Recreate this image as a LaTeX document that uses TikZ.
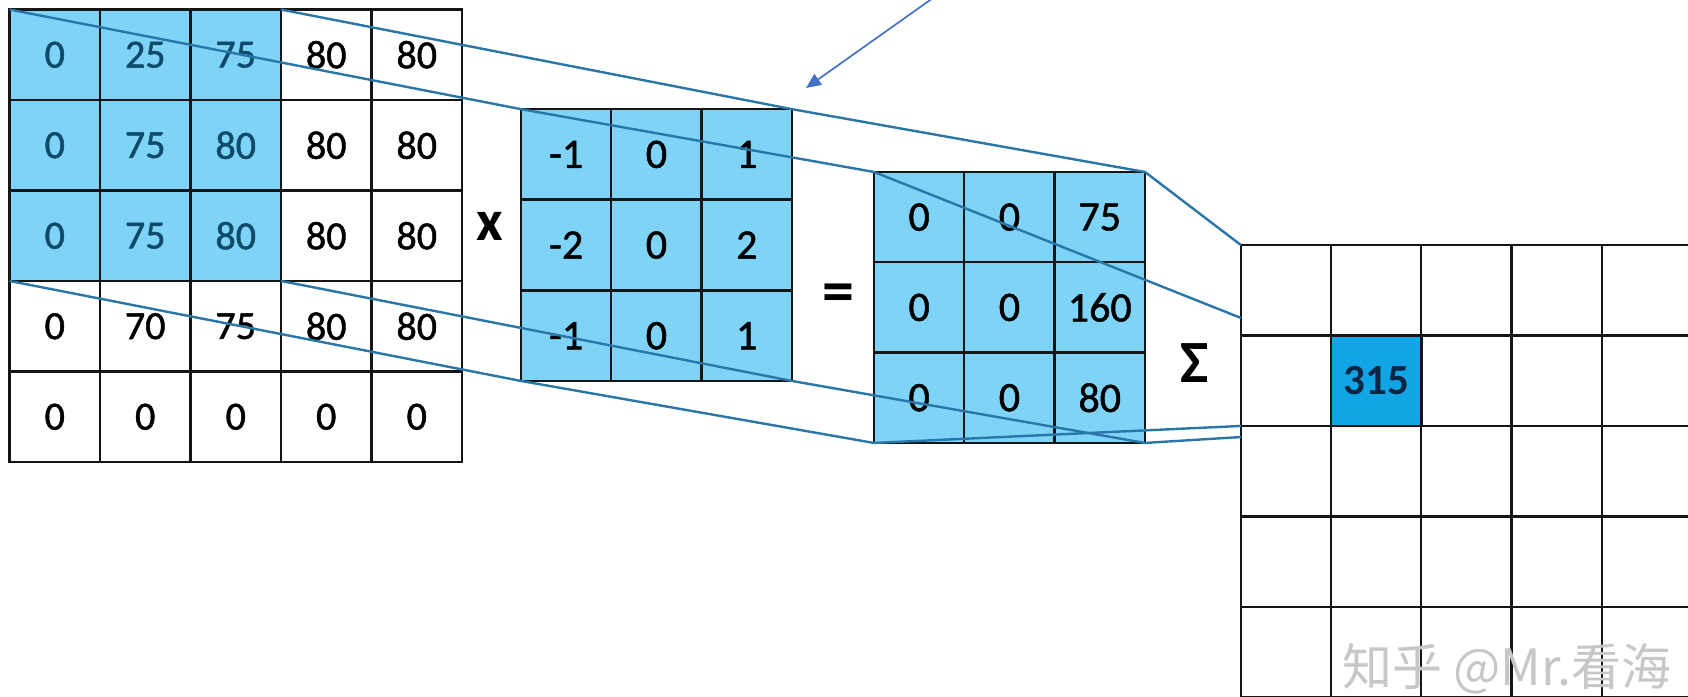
\documentclass[tikz,border=0pt]{standalone}
\usepackage{fontspec}
\setmainfont{Carlito}
\newfontfamily\numfont[FakeBold=1.2]{Carlito}
\newfontfamily\cjk{Noto Sans CJK SC}
\usetikzlibrary{arrows.meta}
\definecolor{lb}{HTML}{7FD3F7}
\definecolor{hl}{HTML}{12A5E6}
\definecolor{gridc}{HTML}{151515}
\definecolor{conn}{HTML}{2A76A8}
\definecolor{arrc}{HTML}{4472C4}
\definecolor{wintext}{HTML}{0E4A6A}
\definecolor{navy}{HTML}{0B2545}
\begin{document}
\begin{tikzpicture}[x=1pt,y=-1pt,
  cellbox/.style={draw=gridc, line width=2.2pt, minimum width=90.4pt, minimum height=90.4pt,
    inner sep=0pt, outer sep=0pt, anchor=center},
  numin/.style={font=\numfont\fontsize{40}{40}\selectfont},
  numk/.style={font=\numfont\fontsize{42}{42}\selectfont},
  connline/.style={draw=conn, line width=2.4pt, line join=round},
  opsym/.style={font=\bfseries\fontsize{58}{58}\selectfont, inner sep=0pt}]
\useasboundingbox (0,0) rectangle (1688,696);
\clip (0,0) rectangle (1688,696);
\fill[white] (0,0) rectangle (1688,696);

% input 5x5
\foreach \row [count=\ri] in {{0,25,75,80,80},{0,75,80,80,80},{0,75,80,80,80},{0,70,75,80,80},{0,0,0,0,0}}{
  \foreach \v [count=\ci] in \row {
    \ifnum\ri<4 \ifnum\ci<4 \def\fc{lb}\def\tc{wintext}\else\def\fc{white}\def\tc{black}\fi\else\def\fc{white}\def\tc{black}\fi
    \node[cellbox, numin, fill=\fc, text=\tc] (in-\ri-\ci) at ({9.5+90.5*(\ci-0.5)},{9.5+90.5*(\ri-0.5)}) {\v};
  }
}

% kernel 3x3
\foreach \row [count=\ri] in {{-1,0,1},{-2,0,2},{-1,0,1}}{
  \foreach \v [count=\ci] in \row {
    \node[cellbox, numk, fill=lb, text=black] (k-\ri-\ci) at ({521+90.3*(\ci-0.5)},{109+90.7*(\ri-0.5)}) {\v};
  }
}

% result 3x3
\foreach \row [count=\ri] in {{0,0,75},{0,0,160},{0,0,80}}{
  \foreach \v [count=\ci] in \row {
    \node[cellbox, numk, fill=lb, text=black] (res-\ri-\ci) at ({874+90.3*(\ci-0.5)},{172+90.3*(\ri-0.5)}) {\v};
  }
}

% output grid
\foreach \ri in {1,...,5}{
  \foreach \ci in {1,...,5}{
    \node[cellbox, fill=white] (out-\ri-\ci) at ({1241+90.2*(\ci-0.5)},{245+90.5*(\ri-0.5)}) {};
  }
}
\node[cellbox, fill=hl, text=navy, font=\bfseries\fontsize{43}{43}\selectfont] (outv) at (out-2-2) {315};

% operators
\node[opsym] (times) at (490,226) {x};
\node[opsym, font=\bfseries\fontsize{64}{64}\selectfont] (eq) at (838,298) {=};
\node[opsym, font=\bfseries\fontsize{60}{60}\selectfont] (sig) at (1195,363) {Σ};

% connector end points at left edge of output grid
\coordinate (eA) at (1241,318);
\coordinate (eD) at (1241,437);

\draw[connline] (in-1-1.north west) -- (k-1-1.north west) -- (res-1-1.north west) -- (eA);
\draw[connline] (in-1-3.north east) -- (k-1-3.north east) -- (res-1-3.north east) -- (out-1-1.north west);
\draw[connline] (in-3-1.south west) -- (k-3-1.south west) -- (res-3-1.south west) -- (out-2-1.south west);
\draw[connline] (in-3-3.south east) -- (k-3-3.south east) -- (res-3-3.south east) -- (eD);

% arrow
\coordinate (arrS) at (933,-2);
\coordinate (arrE) at (806,88);
\draw[draw=arrc, line width=1.7pt, -{Triangle[length=15pt,width=13pt]}] (arrS) -- (arrE);

% watermark
\node[font=\cjk\fontsize{50}{50}\selectfont, text=black!22, inner sep=0pt] (wm) at (1507,669) {知乎 @Mr.看海};
\end{tikzpicture}
\end{document}
